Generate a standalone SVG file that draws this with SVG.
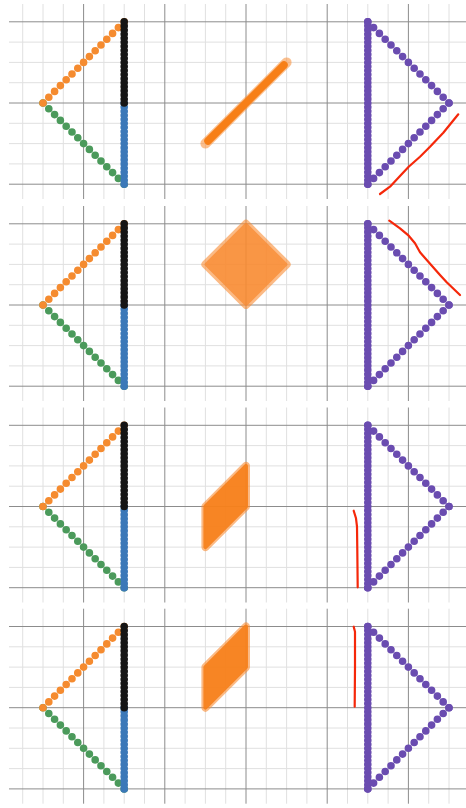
<svg xmlns="http://www.w3.org/2000/svg" xmlns:xlink="http://www.w3.org/1999/xlink" width="466" height="808" viewBox="0 0 466 808">
<style>
.minor{stroke:#e0e0e0;stroke-width:1;fill:none}
.major{stroke:#8c8c8c;stroke-width:1;fill:none}
.dots{fill:none;stroke-width:7.6;stroke-linecap:round}
.diag{stroke-dasharray:0 8.2}
.vert{stroke-dasharray:0 4.059}
.red{fill:none;stroke:#f5280a;stroke-width:2.2;stroke-linecap:round;stroke-linejoin:round}
.blobA{fill:#f98d35;stroke:#f98d35;stroke-width:8;stroke-linejoin:round;stroke-linecap:round;opacity:.6}
.blobB{fill:#f7801a;stroke:#f7801a;stroke-width:4;stroke-linejoin:round;stroke-linecap:round;opacity:.9}
</style>
<defs>
<g id="grid">
<path class="minor" d="M9,-60.9H466M9,-40.6H466M9,-20.3H466M9,20.3H466M9,40.6H466M9,60.9H466
M22.7,-99V96M43,-99V96M63.3,-99V96M103.9,-99V96M124.2,-99V96M144.5,-99V96M185.1,-99V96M205.4,-99V96M225.7,-99V96M266.3,-99V96M286.6,-99V96M306.9,-99V96M347.5,-99V96M367.8,-99V96M388.1,-99V96M428.7,-99V96M449,-99V96"/>
<path class="major" d="M9,-81.2H466M9,0H466M9,81.2H466M83.6,-99V96M164.8,-99V96M246,-99V96M327.2,-99V96M408.4,-99V96"/>
</g>
<g id="leftTri">
<path class="dots diag" stroke="#4b9a5b" d="M43,0L124.2,81.2"/>
<path class="dots diag" stroke="#f58b2f" d="M43,0L124.2,-81.2"/>
<path class="dots vert" stroke="#3b78b8" d="M124.2,81.2V0"/>
<path class="dots vert" stroke="#151515" d="M124.2,0V-81.2"/>
</g>
<g id="rightTri">
<path class="dots vert" stroke="#6a4cb0" d="M367.8,-81.2V81.2"/>
<path class="dots diag" stroke="#6a4cb0" d="M367.8,-81.2L449,0"/>
<path class="dots diag" stroke="#6a4cb0" d="M367.8,81.2L449,0"/>
</g>
</defs>

<g id="panel1" transform="translate(0,103)">
<use xlink:href="#grid"/>
<use xlink:href="#leftTri"/>
<g id="mid1">
<path class="blobA" d="M205.4,40.6L286.6,-40.6" style="stroke-width:10;opacity:.55"/>
<path class="blobB" d="M208,38L284,-38" style="stroke-width:7.5;opacity:1;stroke:#f77f17"/>
</g>
<use xlink:href="#rightTri"/>
<polyline class="red" points="380,91 390,83.7 400,73 408.7,63.7 420,53.7 430,43.7 443.3,29.7 458.3,11.3"/>
</g>

<g id="panel2" transform="translate(0,305)">
<use xlink:href="#grid"/>
<use xlink:href="#leftTri"/>
<g id="mid2">
<polygon class="blobA" points="246,-81.2 286.6,-40.6 246,0 205.4,-40.6"/>
<polygon class="blobB" points="246,-80 285.4,-40.6 246,-1.2 206.6,-40.6" style="fill:#f98a30;stroke:#f98a30;opacity:.75"/>
</g>
<use xlink:href="#rightTri"/>
<polyline class="red" points="389.3,-84.3 400,-76.7 408.7,-69.3 415,-61.7 420,-52.7 428.3,-43.3 440,-30 446.7,-22.7 460,-10"/>
</g>

<g id="panel3" transform="translate(0,506.5)">
<use xlink:href="#grid"/>
<use xlink:href="#leftTri"/>
<g id="mid3">
<polygon class="blobA" points="246,-40.6 246,0 205.4,40.6 205.4,0"/>
<polygon class="blobB" points="246,-40.6 246,0 205.4,40.6 205.4,0"/>
</g>
<use xlink:href="#rightTri"/>
<polyline class="red" points="353.7,4.2 356,11.8 357,20.2 357.3,43.5 357.7,80.8"/>
</g>

<g id="panel4" transform="translate(0,707.7)">
<use xlink:href="#grid"/>
<use xlink:href="#leftTri"/>
<g id="mid4">
<polygon class="blobA" points="246,-81.2 246,-40.6 205.4,0 205.4,-40.6"/>
<polygon class="blobB" points="246,-81.2 246,-40.6 205.4,0 205.4,-40.6"/>
</g>
<use xlink:href="#rightTri"/>
<polyline class="red" points="353.7,-81 355,-76 355,-41 354.7,-1"/>
</g>
</svg>
